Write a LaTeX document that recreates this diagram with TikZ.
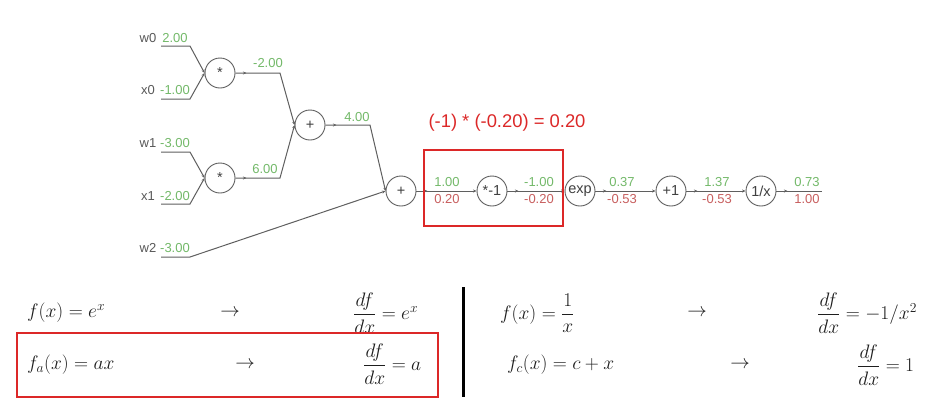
\RequirePackage{fix-cm}
\documentclass[tikz,border=0pt]{standalone}
\usepackage{amsmath}
\usepackage[no-math]{fontspec}
\newfontfamily\lab{Liberation Sans}
\usetikzlibrary{arrows.meta,decorations.markings}
\definecolor{gcol}{RGB}{95,95,95}
\definecolor{grn}{RGB}{115,185,105}
\definecolor{rdv}{RGB}{200,95,95}
\definecolor{boxred}{RGB}{220,40,40}
\definecolor{eqc}{RGB}{30,30,30}
\tikzset{
  op/.style={circle,draw=gcol,line width=0.9pt,minimum size=30pt,inner sep=0pt,font=\lab\fontsize{14.5}{16}\selectfont,text=black!75},
  lbl/.style={font=\lab\fontsize{13}{15}\selectfont,text=black!65,inner sep=0pt},
  gv/.style={font=\lab\fontsize{13}{15}\selectfont,text=grn,inner sep=0pt},
  rv/.style={font=\lab\fontsize{13}{15}\selectfont,text=rdv,inner sep=0pt},
  conn/.style={draw=gcol,line width=1pt,-{Stealth[length=3.5pt,width=3pt]}},
  plainconn/.style={draw=gcol,line width=1pt},
  mk/.style={postaction={decorate},decoration={markings,mark=at position 11pt with {\arrow[gcol]{Stealth[length=3.5pt,width=3pt]}}}},
  eq/.style={font=\fontsize{19.5}{23}\selectfont,text=eqc,inner sep=0pt},
  redbox/.style={draw=boxred,line width=1.4pt}
}
\begin{document}
\begin{tikzpicture}[x=1pt,y=-1pt]
\useasboundingbox[fill=white] (0,0) rectangle (931,402);

% operation nodes
\node[op] (m1) at (220,73) {*};
\node[op] (m2) at (220,178) {*};
\node[op] (a1) at (310,125) {+};
\node[op] (a2) at (401,191) {+};
\node[op] (n1) at (492,191) {*-1};
\node[op] (e1) at (580,191) {exp};
\node[op] (p1) at (671,191) {+1};
\node[op] (r1) at (761,191) {1/x};
\coordinate (out) at (822,191);

% input labels
\node[lbl] (lw0) at (148,38) {w0};
\node[gv]  (vw0) at (175,38) {2.00};
\node[lbl] (lx0) at (148,90) {x0};
\node[gv]  (vx0) at (175,90) {-1.00};
\node[lbl] (lw1) at (148,143) {w1};
\node[gv]  (vw1) at (175,143) {-3.00};
\node[lbl] (lx1) at (148,196) {x1};
\node[gv]  (vx1) at (175,196) {-2.00};
\node[lbl] (lw2) at (148,248) {w2};
\node[gv]  (vw2) at (175,248) {-3.00};

\coordinate (sw0) at (161,46);
\coordinate (sx0) at (161,99);
\coordinate (sw1) at (161,152);
\coordinate (sx1) at (161,204);
\coordinate (sw2) at (161,257);

% input edges
\draw[conn] (sw0) -- ++(29,0) -- (m1.west);
\draw[conn] (sx0) -- ++(29,0) -- (m1.west);
\draw[conn] (sw1) -- ++(29,0) -- (m2.west);
\draw[conn] (sx1) -- ++(29,0) -- (m2.west);
\draw[conn] (sw2) -- ++(29,0) -- (a2.west);

% internal edges
\draw[conn,mk] (m1.east) -- (280,73) -- (a1.west);
\draw[conn,mk] (m2.east) -- (280,178) -- (a1.west);
\draw[conn,mk] (a1.east) -- (370,125) -- (a2.west);
\draw[conn,mk] (a2) -- (n1);
\draw[conn,mk] (n1) -- (e1);
\draw[conn,mk] (e1) -- (p1);
\draw[conn,mk] (p1) -- (r1);
\draw[plainconn,mk] (r1.east) -- (out);

% edge values
\node[gv] (v1) at (268,63) {-2.00};
\node[gv] (v2) at (265,169) {6.00};
\node[gv] (v3) at (357,117) {4.00};
\node[gv] (v4) at (447,182) {1.00};
\node[rv] (g4) at (447,199) {0.20};
\node[gv] (v5) at (539,182) {-1.00};
\node[rv] (g5) at (539,199) {-0.20};
\node[gv] (v6) at (622,182) {0.37};
\node[rv] (g6) at (622,199) {-0.53};
\node[gv] (v7) at (717,182) {1.37};
\node[rv] (g7) at (717,199) {-0.53};
\node[gv] (v8) at (807,182) {0.73};
\node[rv] (g8) at (807,199) {1.00};

% red highlight
\draw[redbox] (424,150) rectangle (563,226);
\node[font=\lab\fontsize{18.4}{20}\selectfont,text=boxred,inner sep=0pt] (note) at (507,123) {(-1) * (-0.20) = 0.20};

% formulas
\node[eq,anchor=west] (f1) at (27,313) {$f(x)=e^x$};
\node[eq] (ar1) at (230,313) {$\rightarrow$};
\node[eq,anchor=west] (d1) at (353,313) {$\dfrac{df}{dx}=e^x$};
\node[eq,anchor=west] (f2) at (27,365) {$f_a(x)=ax$};
\node[eq] (ar2) at (245,365) {$\rightarrow$};
\node[eq,anchor=west] (d2) at (363,364) {$\dfrac{df}{dx}=a$};
\draw[redbox] (17,333) rectangle (438,397);

\draw[line width=3pt,black] (463,287) -- (463,397);

\node[eq,anchor=west] (f3) at (500,313) {$f(x)=\dfrac{1}{x}$};
\node[eq] (ar3) at (697,313) {$\rightarrow$};
\node[eq,anchor=west] (d3) at (817,313) {$\dfrac{df}{dx}=-1/x^2$};
\node[eq,anchor=west] (f4) at (507,365) {$f_c(x)=c+x$};
\node[eq] (ar4) at (740,365) {$\rightarrow$};
\node[eq,anchor=west] (d4) at (857,365) {$\dfrac{df}{dx}=1$};
\end{tikzpicture}
\end{document}
